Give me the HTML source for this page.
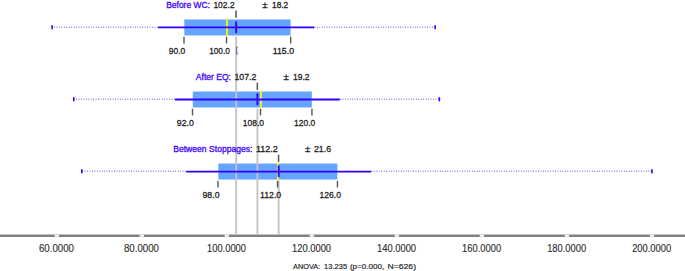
<!DOCTYPE html>
<html lang="en"><head><meta charset="utf-8"><title>Box Plot</title>
<style>
html,body{margin:0;padding:0;background:#fff;}
svg{display:block;}
text{font-family:"Liberation Sans",sans-serif;}
.lab{font-size:9.7px;fill:#222;stroke:#222;stroke-width:0.3px;}
.nm{font-size:9.7px;fill:#4408ff;stroke:#4408ff;stroke-width:0.35px;}
.ax{font-size:10.4px;fill:#2a2a2a;stroke:#2a2a2a;stroke-width:0.12px;}
.an{font-size:8px;fill:#2a2a2a;stroke:#2a2a2a;stroke-width:0.2px;}
</style></head><body>
<svg width="685" height="271" viewBox="0 0 685 271">
<rect x="0" y="0" width="685" height="271" fill="#ffffff"/>
<line x1="0" y1="235.7" x2="685" y2="235.7" stroke="#808080" stroke-width="2.4"/>
<rect x="54.55" y="234.70" width="4.4" height="2.0" fill="#ffffff"/>
<rect x="139.58" y="234.70" width="4.4" height="2.0" fill="#ffffff"/>
<rect x="224.61" y="234.70" width="4.4" height="2.0" fill="#ffffff"/>
<rect x="309.64" y="234.70" width="4.4" height="2.0" fill="#ffffff"/>
<rect x="394.67" y="234.70" width="4.4" height="2.0" fill="#ffffff"/>
<rect x="479.70" y="234.70" width="4.4" height="2.0" fill="#ffffff"/>
<rect x="564.73" y="234.70" width="4.4" height="2.0" fill="#ffffff"/>
<rect x="649.76" y="234.70" width="4.4" height="2.0" fill="#ffffff"/>
<text class="ax" x="38.95" y="251.9" textLength="35.0" lengthAdjust="spacingAndGlyphs">60.0000</text>
<text class="ax" x="123.98" y="251.9" textLength="35.0" lengthAdjust="spacingAndGlyphs">80.0000</text>
<text class="ax" x="207.01" y="251.9" textLength="39.0" lengthAdjust="spacingAndGlyphs">100.0000</text>
<text class="ax" x="292.04" y="251.9" textLength="39.0" lengthAdjust="spacingAndGlyphs">120.0000</text>
<text class="ax" x="377.07" y="251.9" textLength="39.0" lengthAdjust="spacingAndGlyphs">140.0000</text>
<text class="ax" x="462.10" y="251.9" textLength="39.0" lengthAdjust="spacingAndGlyphs">160.0000</text>
<text class="ax" x="547.13" y="251.9" textLength="39.0" lengthAdjust="spacingAndGlyphs">180.0000</text>
<text class="ax" x="632.16" y="251.9" textLength="39.0" lengthAdjust="spacingAndGlyphs">200.0000</text>
<text class="an" y="269.4"><tspan x="293" textLength="27.2" lengthAdjust="spacingAndGlyphs">ANOVA:</tspan> <tspan x="324.1" textLength="23" lengthAdjust="spacingAndGlyphs">13.235</tspan> <tspan x="349.9" textLength="34.3" lengthAdjust="spacingAndGlyphs">(p=0.000,</tspan> <tspan x="387.6" textLength="28.4" lengthAdjust="spacingAndGlyphs">N=626)</tspan></text>
<line x1="158.79" y1="27.20" x2="52.07" y2="27.20" stroke="#3300ff" stroke-width="1.6" stroke-dasharray="0.7 1.75" stroke-dashoffset="-1" stroke-opacity="0.66"/>
<line x1="313.54" y1="27.20" x2="435.13" y2="27.20" stroke="#3300ff" stroke-width="1.6" stroke-dasharray="0.7 1.75" stroke-dashoffset="-1" stroke-opacity="0.66"/>
<line x1="52.07" y1="25.80" x2="52.07" y2="28.60" stroke="#3300ff" stroke-width="1.6" stroke-linecap="round"/>
<line x1="435.13" y1="25.80" x2="435.13" y2="28.60" stroke="#3300ff" stroke-width="1.6" stroke-linecap="round"/>
<rect x="184.30" y="19.45" width="106.29" height="16.00" fill="#66a5ff"/>
<line x1="175.79" y1="99.25" x2="73.76" y2="99.25" stroke="#3300ff" stroke-width="1.6" stroke-dasharray="0.7 1.75" stroke-dashoffset="-1" stroke-opacity="0.66"/>
<line x1="339.05" y1="99.25" x2="439.38" y2="99.25" stroke="#3300ff" stroke-width="1.6" stroke-dasharray="0.7 1.75" stroke-dashoffset="-1" stroke-opacity="0.66"/>
<line x1="73.76" y1="97.85" x2="73.76" y2="100.65" stroke="#3300ff" stroke-width="1.6" stroke-linecap="round"/>
<line x1="439.38" y1="97.85" x2="439.38" y2="100.65" stroke="#3300ff" stroke-width="1.6" stroke-linecap="round"/>
<rect x="192.80" y="91.50" width="119.04" height="16.00" fill="#66a5ff"/>
<line x1="186.85" y1="171.30" x2="81.83" y2="171.30" stroke="#3300ff" stroke-width="1.6" stroke-dasharray="0.7 1.75" stroke-dashoffset="-1" stroke-opacity="0.66"/>
<line x1="370.51" y1="171.30" x2="651.96" y2="171.30" stroke="#3300ff" stroke-width="1.6" stroke-dasharray="0.7 1.75" stroke-dashoffset="-1" stroke-opacity="0.66"/>
<line x1="81.83" y1="169.90" x2="81.83" y2="172.70" stroke="#3300ff" stroke-width="1.6" stroke-linecap="round"/>
<line x1="651.96" y1="169.90" x2="651.96" y2="172.70" stroke="#3300ff" stroke-width="1.6" stroke-linecap="round"/>
<rect x="218.31" y="163.55" width="119.04" height="16.00" fill="#66a5ff"/>
<line x1="236.16" y1="36.60" x2="236.16" y2="234.50" stroke="#c4c4c4" stroke-width="1.9"/>
<line x1="257.42" y1="108.65" x2="257.42" y2="234.50" stroke="#c4c4c4" stroke-width="1.9"/>
<line x1="278.68" y1="180.70" x2="278.68" y2="234.50" stroke="#c4c4c4" stroke-width="1.9"/>
<line x1="226.91" y1="18.20" x2="226.91" y2="36.10" stroke="#ffff00" stroke-width="1.7"/>
<line x1="158.79" y1="27.45" x2="313.54" y2="27.45" stroke="#3300ff" stroke-width="1.8" stroke-linecap="round"/>
<line x1="236.16" y1="22.10" x2="236.16" y2="32.20" stroke="#3300ff" stroke-width="1.9" stroke-linecap="round"/>
<line x1="236.06" y1="10.60" x2="236.06" y2="17.80" stroke="#555555" stroke-width="1.5"/>
<line x1="184.00" y1="36.70" x2="184.00" y2="43.40" stroke="#555555" stroke-width="1.4"/>
<line x1="226.51" y1="36.70" x2="226.51" y2="43.40" stroke="#555555" stroke-width="1.4"/>
<line x1="290.68" y1="36.70" x2="290.68" y2="43.40" stroke="#555555" stroke-width="1.4"/>
<text class="nm" x="166.2" y="7.60" textLength="43.8" lengthAdjust="spacingAndGlyphs">Before WC:</text>
<text class="lab" x="213.4" y="7.60" textLength="21.2" lengthAdjust="spacingAndGlyphs">102.2</text>
<text class="lab" x="262.2" y="7.60">±</text>
<text class="lab" x="272.0" y="7.60" textLength="16.2" lengthAdjust="spacingAndGlyphs">18.2</text>
<text class="lab" x="168.8" y="53.50" textLength="16.4" lengthAdjust="spacingAndGlyphs">90.0</text>
<text class="lab" x="209.2" y="53.50" textLength="20.6" lengthAdjust="spacingAndGlyphs">100.0</text>
<text class="lab" x="272.8" y="53.50" textLength="21.2" lengthAdjust="spacingAndGlyphs">115.0</text>
<line x1="260.92" y1="90.25" x2="260.92" y2="108.15" stroke="#ffff00" stroke-width="1.7"/>
<line x1="175.79" y1="99.50" x2="339.05" y2="99.50" stroke="#3300ff" stroke-width="1.8" stroke-linecap="round"/>
<line x1="257.42" y1="94.15" x2="257.42" y2="104.25" stroke="#3300ff" stroke-width="1.9" stroke-linecap="round"/>
<line x1="257.32" y1="82.65" x2="257.32" y2="89.85" stroke="#555555" stroke-width="1.5"/>
<line x1="192.50" y1="108.75" x2="192.50" y2="115.45" stroke="#555555" stroke-width="1.4"/>
<line x1="260.52" y1="108.75" x2="260.52" y2="115.45" stroke="#555555" stroke-width="1.4"/>
<line x1="311.94" y1="108.75" x2="311.94" y2="115.45" stroke="#555555" stroke-width="1.4"/>
<text class="nm" x="195.8" y="79.65" textLength="35.2" lengthAdjust="spacingAndGlyphs">After EQ:</text>
<text class="lab" x="234.5" y="79.65" textLength="21.9" lengthAdjust="spacingAndGlyphs">107.2</text>
<text class="lab" x="283.5" y="79.65">±</text>
<text class="lab" x="293.0" y="79.65" textLength="16.5" lengthAdjust="spacingAndGlyphs">19.2</text>
<text class="lab" x="176.8" y="125.55" textLength="17.0" lengthAdjust="spacingAndGlyphs">92.0</text>
<text class="lab" x="242.8" y="125.55" textLength="21.2" lengthAdjust="spacingAndGlyphs">108.0</text>
<text class="lab" x="294.1" y="125.55" textLength="21.2" lengthAdjust="spacingAndGlyphs">120.0</text>
<line x1="277.93" y1="162.30" x2="277.93" y2="180.20" stroke="#ffff00" stroke-width="1.7"/>
<line x1="186.85" y1="171.55" x2="370.51" y2="171.55" stroke="#3300ff" stroke-width="1.8" stroke-linecap="round"/>
<line x1="278.68" y1="166.20" x2="278.68" y2="176.30" stroke="#3300ff" stroke-width="1.9" stroke-linecap="round"/>
<line x1="278.58" y1="154.70" x2="278.58" y2="161.90" stroke="#555555" stroke-width="1.5"/>
<line x1="218.01" y1="180.80" x2="218.01" y2="187.50" stroke="#555555" stroke-width="1.4"/>
<line x1="277.53" y1="180.80" x2="277.53" y2="187.50" stroke="#555555" stroke-width="1.4"/>
<line x1="337.45" y1="180.80" x2="337.45" y2="187.50" stroke="#555555" stroke-width="1.4"/>
<text class="nm" x="173.2" y="151.70" textLength="79.3" lengthAdjust="spacingAndGlyphs">Between Stoppages:</text>
<text class="lab" x="255.9" y="151.70" textLength="22.0" lengthAdjust="spacingAndGlyphs">112.2</text>
<text class="lab" x="305.0" y="151.70">±</text>
<text class="lab" x="314.0" y="151.70" textLength="17.0" lengthAdjust="spacingAndGlyphs">21.6</text>
<text class="lab" x="202.5" y="197.60" textLength="17.0" lengthAdjust="spacingAndGlyphs">98.0</text>
<text class="lab" x="260.0" y="197.60" textLength="21.2" lengthAdjust="spacingAndGlyphs">112.0</text>
<text class="lab" x="319.6" y="197.60" textLength="21.4" lengthAdjust="spacingAndGlyphs">126.0</text>
<rect x="236.3" y="47.0" width="1.8" height="7.0" fill="#d6e8fb"/>
<path d="M238.1 47.2H236.5V53.9H238.1" fill="none" stroke="#556" stroke-width="0.8"/>
</svg>
</body></html>
